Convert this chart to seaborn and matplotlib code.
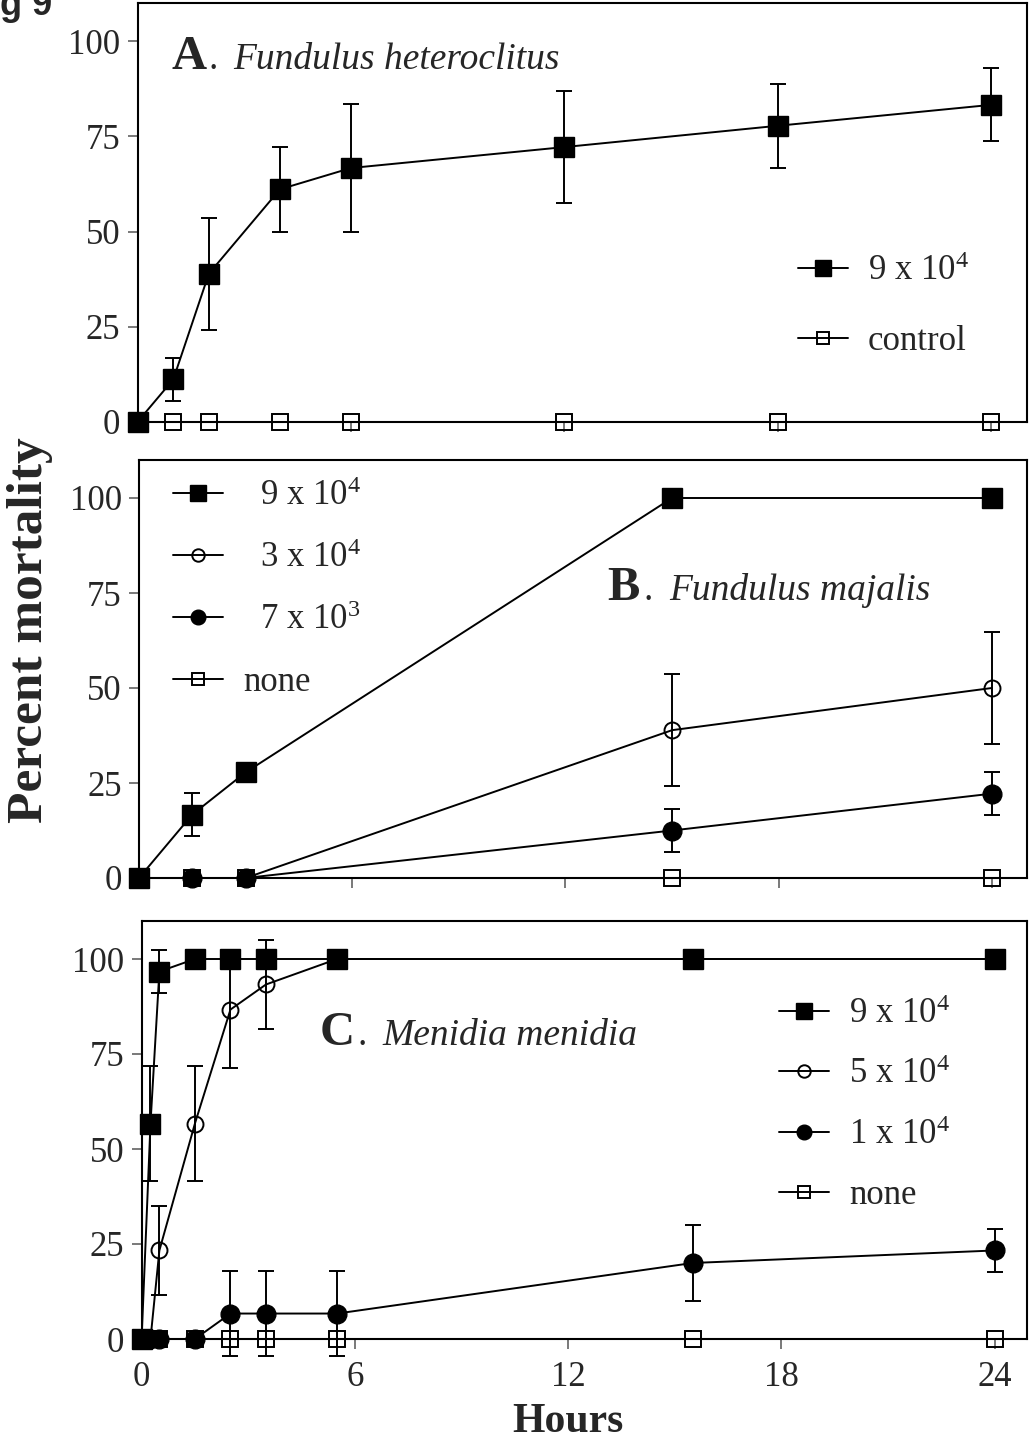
import numpy as np
import matplotlib
matplotlib.use("Agg")
import matplotlib.pyplot as plt
import seaborn as sns

# ---- data: percent mortality (mean, SD) against hours of exposure ----
# A. Fundulus heteroclitus
a_hours = [0, 1, 2, 4, 6, 12, 18, 24]
a_9e4 = [0, 11.1, 38.9, 61.1, 66.7, 72.2, 77.8, 83.3]
a_9e4_sd = [0, 5.6, 14.7, 11.1, 16.7, 14.7, 11.1, 9.6]
a_control = [0, 0, 0, 0, 0, 0, 0, 0]

# B. Fundulus majalis
b_hours = [0, 1.5, 3, 15, 24]
b_9e4 = [0, 16.7, 27.8, 100, 100]
b_9e4_sd = [0, 5.6, 0, 0, 0]
b_3e4 = [0, 0, 0, 38.9, 50.0]
b_3e4_sd = [0, 0, 0, 14.7, 14.7]
b_7e3 = [0, 0, 0, 12.5, 22.2]
b_7e3_sd = [0, 0, 0, 5.6, 5.6]
b_none = [0, 0, 0, 0, 0]

# C. Menidia menidia
c_hours = [0, 0.25, 0.5, 1.5, 2.5, 3.5, 5.5, 15.5, 24]
c_9e4 = [0, 56.7, 96.7, 100, 100, 100, 100, 100, 100]
c_9e4_sd = [0, 15.2, 5.6, 0, 0, 0, 0, 0, 0]
c_5e4 = [0, 0, 23.3, 56.7, 86.7, 93.3, 100, 100, 100]
c_5e4_sd = [0, 0, 11.6, 15.2, 15.5, 11.6, 0, 0, 0]
c_1e4 = [0, 0, 0, 0, 6.7, 6.7, 6.7, 20.0, 23.3]
c_1e4_sd = [0, 0, 0, 0, 11.2, 11.2, 11.2, 10.0, 5.7]
c_none = [0, 0, 0, 0, 0, 0, 0, 0, 0]

y_ticks = [0, 25, 50, 75, 100]
x_ticks = [0, 6, 12, 18, 24]

sns.set_style("ticks")
plt.rcParams["font.family"] = ["Liberation Serif", "DejaVu Serif"]
plt.rcParams["mathtext.fontset"] = "custom"
plt.rcParams["mathtext.rm"] = "Liberation Serif"
plt.rcParams["mathtext.it"] = "Liberation Serif:italic"
plt.rcParams["mathtext.bf"] = "Liberation Serif:bold"

W, H = 1029, 1447
fig = plt.figure(figsize=(W / 100, H / 100), dpi=100)
fig.patch.set_facecolor("white")


def px_axes(left, top, right, bottom):
    return fig.add_axes([left / W, 1 - bottom / H, (right - left) / W, (bottom - top) / H])


STYLES = {
    "fsq": dict(marker="s", ms=14.5, mfc="k", mec="k", mew=1.0),
    "osq": dict(marker="s", ms=11, mfc="none", mec="k", mew=1.4),
    "oci": dict(marker="o", ms=11.5, mfc="none", mec="k", mew=1.4),
    "fci": dict(marker="o", ms=13.5, mfc="k", mec="k", mew=1.0),
}


def series(ax, hours, vals, sd, kind, z):
    sns.lineplot(x=hours, y=vals, ax=ax, color="k", lw=1.4, errorbar=None,
                 legend=False, clip_on=False, zorder=z, **STYLES[kind])
    line = ax.lines[-1]
    if sd is not None:
        h = np.asarray(hours, float)
        v = np.asarray(vals, float)
        s = np.asarray(sd, float)
        m = s > 0
        if m.any():
            ax.errorbar(h[m], v[m], yerr=s[m], fmt="none", ecolor="k",
                        elinewidth=1.4, capsize=6, capthick=1.4,
                        clip_on=False, zorder=z - 0.5)
    return line


def style_axes(ax, xmax, show_xlabels):
    ax.set_xlim(0, xmax)
    ax.set_ylim(0, 110)
    ax.set_yticks(y_ticks)
    ax.set_xticks(x_ticks)
    for sp in ax.spines.values():
        sp.set_visible(True)
        sp.set_linewidth(1.5)
        sp.set_color("k")
    ax.tick_params(axis="both", direction="out", length=7.5, width=1.1,
                   color="#555555", labelsize=25, pad=5)
    ax.tick_params(axis="x", labelbottom=show_xlabels, pad=8)
    ax.set_xlabel("")
    ax.set_ylabel("")


def legend(ax, handles, labels, x, y, spacing):
    ax.legend(handles, labels, loc="upper left", bbox_to_anchor=(x, y),
              frameon=False, borderpad=0, borderaxespad=0, fontsize=25,
              handlelength=1.44, handletextpad=0.58, labelspacing=spacing,
              markerscale=0.78)


# ---- A ----
axA = px_axes(137.7, 3.3, 1026.7, 421.7)
hA1 = series(axA, a_hours, a_control, None, "osq", 3)
hA0 = series(axA, a_hours, a_9e4, a_9e4_sd, "fsq", 5)
style_axes(axA, 25.0, False)
legend(axA, [hA0, hA1], ["9 x 10$^4$", "control"], 0.7424, 0.3985, 1.08)

# ---- B ----
axB = px_axes(139, 460, 1026.7, 878)
hB3 = series(axB, b_hours, b_none, None, "osq", 3)
hB2 = series(axB, b_hours, b_7e3, b_7e3_sd, "fci", 4)
hB1 = series(axB, b_hours, b_3e4, b_3e4_sd, "oci", 4.2)
hB0 = series(axB, b_hours, b_9e4, b_9e4_sd, "fsq", 5)
style_axes(axB, 24.98, False)
legend(axB, [hB0, hB1, hB2, hB3],
       ["  9 x 10$^4$", "  3 x 10$^4$", "  7 x 10$^3$", "none"],
       0.038, 0.951, 0.83)

# ---- C ----
axC = px_axes(141.6, 921, 1026.7, 1339)
hC3 = series(axC, c_hours, c_none, None, "osq", 3)
hC2 = series(axC, c_hours, c_1e4, c_1e4_sd, "fci", 4)
hC1 = series(axC, c_hours, c_5e4, c_5e4_sd, "oci", 4.2)
hC0 = series(axC, c_hours, c_9e4, c_9e4_sd, "fsq", 5)
style_axes(axC, 24.9, True)
legend(axC, [hC0, hC1, hC2, hC3],
       ["9 x 10$^4$", "5 x 10$^4$", "1 x 10$^4$", "none"],
       0.720, 0.816, 0.79)


# ---- panel titles ----
def panel_title(letter, name, x, y):
    fig.text(x / W, 1 - y / H, letter, fontsize=35, fontweight="bold",
             ha="left", va="baseline")
    fig.text((x + 37) / W, 1 - y / H, ".", fontsize=27, ha="left", va="baseline")
    fig.text((x + 62) / W, 1 - y / H, name, fontsize=27, style="italic",
             ha="left", va="baseline")


panel_title("A", "Fundulus heteroclitus", 171.7, 69.3)
panel_title("B", "Fundulus majalis", 607, 600)
panel_title("C", "Menidia menidia", 320, 1045)

fig.text(30 / W, 1 - 630 / H, "Percent mortality", rotation=90, fontsize=37,
         fontweight="bold", ha="center", va="center")
fig.text(568 / W, 1 - 1422 / H, "Hours", fontsize=30, fontweight="bold",
         ha="center", va="center")
fig.text(52 / W, 1 - 15 / H, "Fig 9", fontsize=26, fontweight="bold",
         family="Liberation Sans", ha="right", va="baseline")

fig.savefig("out.png", dpi=100, facecolor="white")
